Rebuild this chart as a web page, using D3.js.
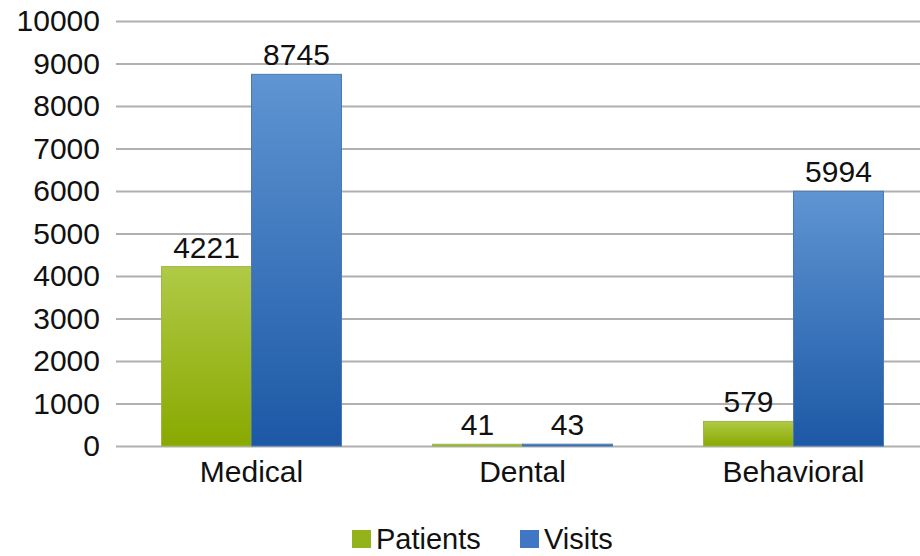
<!DOCTYPE html>
<html>
<head>
<meta charset="utf-8">
<script src="https://cdn.jsdelivr.net/npm/d3@7"></script>
<style>
    html, body { margin: 0; padding: 0; background: #fff; }
    svg text { font-family: "Liberation Sans", Arial, sans-serif; fill: #111; }
</style>
</head>
<body>
<div id="chart"></div>
<script>
// -- Data ---------------------------------------------------
const categories = ["Medical", "Dental", "Behavioral"];
const seriesNames = ["Patients", "Visits"];
const patients = [4221, 41, 579];
const visits = [8745, 43, 5994];
const yTicks = [0, 1000, 2000, 3000, 4000, 5000, 6000, 7000, 8000, 9000, 10000];

// -- Config -------------------------------------------------
const CONFIG = {
    WIDTH: 920,
    HEIGHT: 556,
    PLOT: { LEFT: 116, RIGHT: 929, TOP: 21, BOTTOM: 446 },
    FONT_SIZE: "30px",
    GRID_COLOR: "#b0b0b0",
};

const rows = categories.map((c, i) => ({ category: c, values: [patients[i], visits[i]] }));

const svg = d3.select("#chart").append("svg")
    .attr("width", CONFIG.WIDTH)
    .attr("height", CONFIG.HEIGHT);

// gradients
const defs = svg.append("defs");
const grads = [
    { id: "gGreen", top: "#b0ca46", bottom: "#89a900" },
    { id: "gBlue", top: "#5f95d2", bottom: "#1c58a6" },
];
grads.forEach(g => {
    const lg = defs.append("linearGradient")
        .attr("id", g.id).attr("x1", 0).attr("y1", 0).attr("x2", 0).attr("y2", 1);
    lg.append("stop").attr("offset", "0%").attr("stop-color", g.top);
    lg.append("stop").attr("offset", "100%").attr("stop-color", g.bottom);
});
const fills = ["url(#gGreen)", "url(#gBlue)"];
const strokes = ["#9db54a", "#4a78b0"];
const legendColors = ["#94b31a", "#3f77c4"];

// -- Scales -------------------------------------------------
const x = d3.scaleBand()
    .domain(categories)
    .range([CONFIG.PLOT.LEFT, CONFIG.PLOT.RIGHT])
    .paddingInner(0.336)
    .paddingOuter(0.168);

const xs = d3.scaleBand()
    .domain(seriesNames)
    .range([0, x.bandwidth()]);

const y = d3.scaleLinear()
    .domain([0, 10000])
    .range([CONFIG.PLOT.BOTTOM, CONFIG.PLOT.TOP]);

// -- Gridlines + y axis -------------------------------------
const yAxis = svg.append("g")
    .attr("transform", `translate(${CONFIG.PLOT.LEFT},0)`)
    .call(d3.axisLeft(y).tickValues(yTicks).tickSize(-(CONFIG.WIDTH - CONFIG.PLOT.LEFT)).tickPadding(16).tickFormat(d3.format("d")));
yAxis.select(".domain").remove();
yAxis.selectAll(".tick line")
    .attr("stroke", CONFIG.GRID_COLOR)
    .attr("stroke-width", 2);
yAxis.selectAll(".tick text")
    .attr("font-size", CONFIG.FONT_SIZE)
    .attr("font-family", null)
    .attr("fill", "#111");

// -- Bars ---------------------------------------------------
const groups = svg.selectAll("g.cat")
    .data(rows)
    .join("g")
    .attr("class", "cat")
    .attr("transform", d => `translate(${x(d.category)},0)`);

groups.selectAll("rect")
    .data(d => d.values.map((v, i) => ({ series: seriesNames[i], value: v, i })))
    .join("rect")
    .attr("x", d => xs(d.series))
    .attr("y", d => y(d.value))
    .attr("width", xs.bandwidth())
    .attr("height", d => y(0) - y(d.value))
    .attr("fill", d => fills[d.i])
    .attr("stroke", d => strokes[d.i])
    .attr("stroke-width", 1);

groups.selectAll("text.val")
    .data(d => d.values.map((v, i) => ({ series: seriesNames[i], value: v })))
    .join("text")
    .attr("class", "val")
    .attr("x", d => xs(d.series) + xs.bandwidth() / 2)
    .attr("y", d => y(d.value) - 9)
    .attr("text-anchor", "middle")
    .attr("font-size", CONFIG.FONT_SIZE)
    .text(d => d.value);

// -- X labels -----------------------------------------------
svg.selectAll("text.cat-label")
    .data(categories)
    .join("text")
    .attr("class", "cat-label")
    .attr("x", d => x(d) + x.bandwidth() / 2)
    .attr("y", 482)
    .attr("text-anchor", "middle")
    .attr("font-size", CONFIG.FONT_SIZE)
    .text(d => d);

// -- Legend -------------------------------------------------
// kept a few px higher than the reference so the text box stays inside the frame
const legendX = [352, 520];
const legend = svg.selectAll("g.legend")
    .data(seriesNames)
    .join("g")
    .attr("class", "legend")
    .attr("transform", (d, i) => `translate(${legendX[i]},530)`);

legend.append("rect")
    .attr("width", 19)
    .attr("height", 18)
    .attr("fill", (d, i) => legendColors[i]);

legend.append("text")
    .attr("x", 24)
    .attr("y", 19)
    .attr("font-size", "29px")
    .text(d => d);
</script>
</body>
</html>
